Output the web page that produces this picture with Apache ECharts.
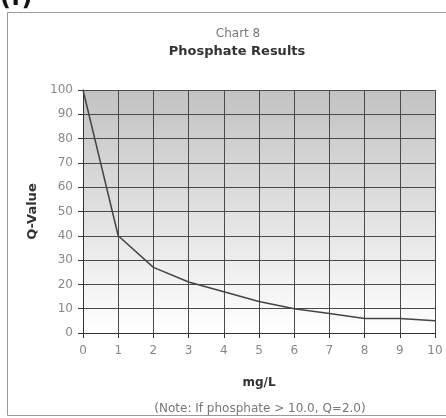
<!DOCTYPE html>
<html>
<head>
<meta charset="utf-8">
<script src="https://cdn.jsdelivr.net/npm/echarts@6/dist/echarts.min.js"></script>
<style>
  html, body { margin: 0; padding: 0; background: #fff; }
  #chart { width: 446px; height: 418px; }
</style>
</head>
<body>
<div id="chart"></div>
<script>
// Phosphate concentration (mg/L) and the matching Q-value
const phosphateMgL = [0, 1, 2, 3, 4, 5, 6, 7, 8, 9, 10];
const qValues = [100, 40, 27, 21, 17, 13, 10, 8, 6, 6, 5];

const chartLabel = 'Chart 8';
const chartTitle = 'Phosphate Results';
const xAxisTitle = 'mg/L';
const yAxisTitle = 'Q-Value';
const footNote = '(Note: If phosphate > 10.0, Q=2.0)';
const panelTag = '(f)';

const font = 'DejaVu Sans, Verdana, sans-serif';

const chart = echarts.init(document.getElementById('chart'), null, { renderer: 'canvas' });

chart.setOption({
  backgroundColor: '#ffffff',
  animation: false,
  title: [
    {
      text: chartLabel,
      left: 233, top: 23, textAlign: 'center',
      textStyle: { fontFamily: font, fontSize: 12, fontWeight: 'normal', color: '#777' }
    },
    {
      text: chartTitle,
      left: 232, top: 40, textAlign: 'center',
      textStyle: { fontFamily: font, fontSize: 13, fontWeight: 'bold', color: '#333' }
    }
  ],
  graphic: [
    {
      type: 'rect', z: -1,
      shape: { x: 7.5, y: 12.5, width: 460, height: 403 },
      style: { fill: 'none', stroke: '#9a9a9a', lineWidth: 1 }
    },
    {
      type: 'text', left: 0, top: -13,
      style: { text: panelTag, font: 'bold 24px ' + font, fill: '#111' }
    },
    {
      type: 'text', x: 260, y: 409,
      style: {
        text: footNote, font: '12px ' + font, fill: '#777',
        textAlign: 'center', textVerticalAlign: 'middle'
      }
    }
  ],
  grid: {
    left: 83, right: 11, top: 90, bottom: 85,
    show: true,
    borderWidth: 0,
    backgroundColor: {
      type: 'linear', x: 0, y: 0, x2: 0, y2: 1,
      colorStops: [
        { offset: 0, color: '#c2c2c2' },
        { offset: 1, color: '#ffffff' }
      ]
    }
  },
  xAxis: {
    type: 'value',
    min: 0, max: 10, interval: 1,
    name: xAxisTitle,
    nameLocation: 'middle',
    nameGap: 44,
    nameTextStyle: { fontFamily: font, fontSize: 12, fontWeight: 'bold', color: '#333' },
    axisLine: { show: true, onZero: false, lineStyle: { color: '#333', width: 1 } },
    axisTick: { show: true, inside: false, length: 5, lineStyle: { color: '#333' } },
    axisLabel: { fontFamily: font, fontSize: 12, color: '#888', margin: 12 },
    splitLine: { show: true, lineStyle: { color: '#4a4a4a', width: 1 } }
  },
  yAxis: {
    type: 'value',
    min: 0, max: 100, interval: 10,
    name: yAxisTitle,
    nameLocation: 'middle',
    nameGap: 44,
    nameRotate: 90,
    nameTextStyle: { fontFamily: font, fontSize: 13, fontWeight: 'bold', color: '#333' },
    axisLine: { show: true, onZero: false, lineStyle: { color: '#333', width: 1 } },
    axisTick: { show: true, inside: false, length: 5, lineStyle: { color: '#333' } },
    axisLabel: { fontFamily: font, fontSize: 12, color: '#888', margin: 10 },
    splitLine: { show: true, lineStyle: { color: '#4a4a4a', width: 1 } }
  },
  series: [
    {
      type: 'line',
      data: phosphateMgL.map((x, i) => [x, qValues[i]]),
      showSymbol: false,
      symbol: 'none',
      lineStyle: { color: '#444', width: 1.5 },
      z: 5
    }
  ]
});
</script>
</body>
</html>
